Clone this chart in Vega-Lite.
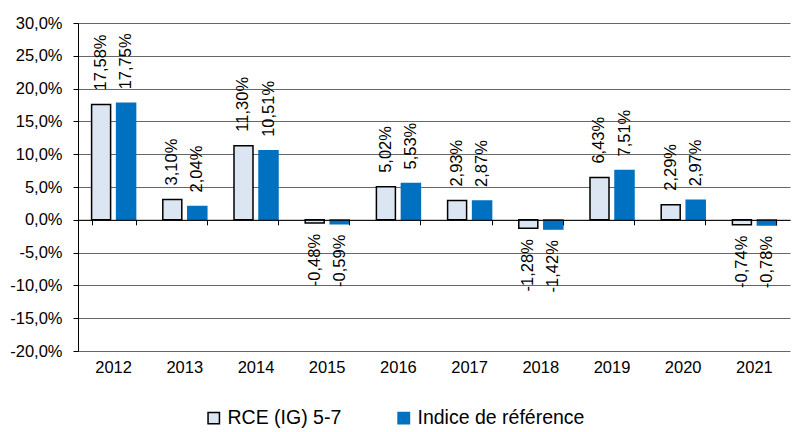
{
  "$schema": "https://vega.github.io/schema/vega-lite/v6.json",
  "width": 712,
  "height": 328,
  "autosize": {"type": "none"},
  "padding": {"left": 78, "top": 23, "right": 2, "bottom": 81},
  "background": "white",
  "config": {
    "locale": {"number": {"decimal": ",", "thousands": " ", "grouping": [3], "currency": ["", " €"], "minus": "-"}},
    "font": "Liberation Sans",
    "view": {"stroke": null},
    "axis": {"labelFont": "Liberation Sans", "labelColor": "#000000", "labelFontSize": 16, "title": null}
  },
  "data": {
    "values": [
      {"year": "2012", "series": "RCE (IG) 5-7", "value": 0.1758},
      {"year": "2012", "series": "Indice de référence", "value": 0.1775},
      {"year": "2013", "series": "RCE (IG) 5-7", "value": 0.0310},
      {"year": "2013", "series": "Indice de référence", "value": 0.0204},
      {"year": "2014", "series": "RCE (IG) 5-7", "value": 0.1130},
      {"year": "2014", "series": "Indice de référence", "value": 0.1051},
      {"year": "2015", "series": "RCE (IG) 5-7", "value": -0.0048},
      {"year": "2015", "series": "Indice de référence", "value": -0.0059},
      {"year": "2016", "series": "RCE (IG) 5-7", "value": 0.0502},
      {"year": "2016", "series": "Indice de référence", "value": 0.0553},
      {"year": "2017", "series": "RCE (IG) 5-7", "value": 0.0293},
      {"year": "2017", "series": "Indice de référence", "value": 0.0287},
      {"year": "2018", "series": "RCE (IG) 5-7", "value": -0.0128},
      {"year": "2018", "series": "Indice de référence", "value": -0.0142},
      {"year": "2019", "series": "RCE (IG) 5-7", "value": 0.0643},
      {"year": "2019", "series": "Indice de référence", "value": 0.0751},
      {"year": "2020", "series": "RCE (IG) 5-7", "value": 0.0229},
      {"year": "2020", "series": "Indice de référence", "value": 0.0297},
      {"year": "2021", "series": "RCE (IG) 5-7", "value": -0.0074},
      {"year": "2021", "series": "Indice de référence", "value": -0.0078}
    ]
  },
  "resolve": {"scale": {"x": "shared", "y": "shared"}, "axis": {"x": "independent"}},
  "layer": [
    {
      "mark": {"type": "bar", "strokeWidth": 1.5},
      "encoding": {
        "x": {
          "field": "year", "type": "nominal",
          "scale": {"paddingInner": 0.382, "paddingOuter": 0.191},
          "axis": {"orient": "bottom", "domain": false, "ticks": false, "labelAngle": 0, "labelPadding": 8, "labelFontSize": 16.5}
        },
        "xOffset": {
          "field": "series", "type": "nominal",
          "scale": {"domain": ["RCE (IG) 5-7", "Indice de référence"], "paddingInner": 0.24, "paddingOuter": 0}
        },
        "y": {
          "field": "value", "type": "quantitative",
          "scale": {"domain": [-0.2, 0.3], "nice": false, "zero": false},
          "axis": {
            "format": ".1%",
            "values": [-0.2, -0.15, -0.1, -0.05, 0, 0.05, 0.1, 0.15, 0.2, 0.25, 0.3],
            "labelOverlap": false,
            "domain": true, "domainColor": "#000000", "domainWidth": 1,
            "ticks": true, "tickColor": "#000000", "tickSize": 5,
            "grid": true, "gridColor": "#666666", "gridWidth": 1,
            "labelPadding": 11, "labelFontSize": 16.5
          }
        },
        "fill": {
          "field": "series", "type": "nominal",
          "scale": {"domain": ["RCE (IG) 5-7", "Indice de référence"], "range": ["#DCE6F2", "#0070C0"]},
          "legend": {
            "title": null, "orient": "none", "legendX": 126, "legendY": 385,
            "direction": "horizontal", "symbolType": "square", "symbolSize": 130,
            "symbolStrokeWidth": 1.5, "labelFontSize": 19.5, "labelFont": "Liberation Sans",
            "labelColor": "#000000", "columnPadding": 52, "labelOffset": 4, "labelLimit": 400
          }
        },
        "stroke": {
          "field": "series", "type": "nominal",
          "scale": {"domain": ["RCE (IG) 5-7", "Indice de référence"], "range": ["#000000", "#0070C0"]},
          "legend": {
            "title": null, "orient": "none", "legendX": 126, "legendY": 385,
            "direction": "horizontal", "symbolType": "square", "symbolSize": 130,
            "symbolStrokeWidth": 1.5, "labelFontSize": 19.5, "labelFont": "Liberation Sans",
            "labelColor": "#000000", "columnPadding": 52, "labelOffset": 4, "labelLimit": 400
          }
        }
      }
    },
    {
      "transform": [{"filter": "datum.value >= 0"}],
      "mark": {"type": "text", "angle": 270, "align": "left", "baseline": "middle", "dx": 14, "fontSize": 16.5, "font": "Liberation Sans", "color": "#000000"},
      "encoding": {
        "x": {
          "field": "year", "type": "nominal",
          "axis": {"orient": "bottom", "offset": -131.2, "labels": false, "domain": true, "domainColor": "#000000", "domainWidth": 1, "ticks": true, "tickColor": "#000000", "tickSize": 5, "tickBand": "extent", "zindex": 1}
        },
        "xOffset": {"field": "series", "type": "nominal"},
        "y": {
          "field": "value", "type": "quantitative",
          "axis": {
            "format": ".1%",
            "values": [-0.2, -0.15, -0.1, -0.05, 0, 0.05, 0.1, 0.15, 0.2, 0.25, 0.3],
            "labelOverlap": false,
            "domain": true, "domainColor": "#000000", "domainWidth": 1,
            "ticks": true, "tickColor": "#000000", "tickSize": 5,
            "grid": true, "gridColor": "#666666", "gridWidth": 1,
            "labelPadding": 11, "labelFontSize": 16.5
          }
        },
        "text": {"field": "value", "type": "quantitative", "format": ".2%"}
      }
    },
    {
      "transform": [{"filter": "datum.value < 0"}],
      "mark": {"type": "text", "angle": 270, "align": "right", "baseline": "middle", "dx": -11, "fontSize": 16.5, "font": "Liberation Sans", "color": "#000000"},
      "encoding": {
        "x": {"field": "year", "type": "nominal", "axis": null},
        "xOffset": {"field": "series", "type": "nominal"},
        "y": {
          "field": "value", "type": "quantitative",
          "axis": {
            "format": ".1%",
            "values": [-0.2, -0.15, -0.1, -0.05, 0, 0.05, 0.1, 0.15, 0.2, 0.25, 0.3],
            "labelOverlap": false,
            "domain": true, "domainColor": "#000000", "domainWidth": 1,
            "ticks": true, "tickColor": "#000000", "tickSize": 5,
            "grid": true, "gridColor": "#666666", "gridWidth": 1,
            "labelPadding": 11, "labelFontSize": 16.5
          }
        },
        "text": {"field": "value", "type": "quantitative", "format": ".2%"}
      }
    }
  ]
}
